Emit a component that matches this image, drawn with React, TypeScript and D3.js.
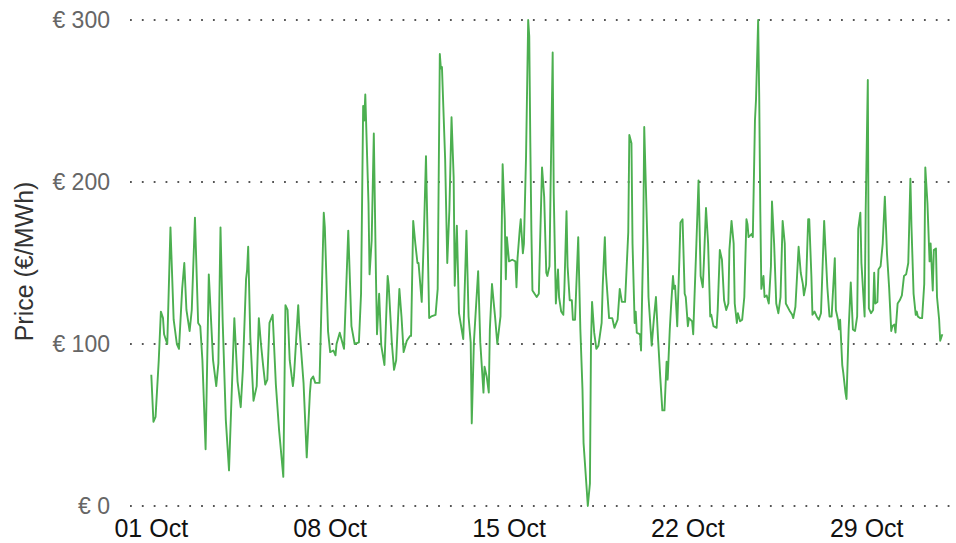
import React, { useEffect, useRef } from 'react';
import * as d3 from 'd3';

// Hourly day-ahead price readings, [hours since 01 Oct 00:00, €/MWh]
const week1: [number, number][] = [
  [0, 81], [2, 52], [4, 55], [7, 90], [9, 120], [11, 116], [12, 106], [15, 100], [18, 172], [21, 115],
  [24, 100], [26, 97], [29, 134], [31, 150], [33, 121], [36, 108], [38, 121], [41, 178], [44, 113], [46, 111],
  [48, 90], [51, 35], [54, 143], [58, 90], [61, 74], [63, 88], [65, 172], [67, 115], [70, 53], [73, 22],
  [75, 60], [78, 116], [81, 77], [84, 61], [86, 84], [89, 140], [90, 146], [91, 160], [93, 104], [96, 65],
  [99, 74], [101, 116], [103, 100], [105, 87], [107, 75], [109, 78], [111, 113], [114, 118], [117, 75], [120, 47],
  [124, 18], [126, 124], [128, 121], [130, 90], [133, 74], [134, 80], [138, 124], [139, 111], [143, 76], [146, 30],
  [149, 70], [150, 78], [152, 80], [154, 76], [158, 76], [162, 181], [163, 172], [166, 108],
];

const week2: [number, number][] = [
  [168, 95], [171, 96], [173, 93], [174, 100], [177, 107], [181, 97], [185, 170], [188, 111], [191, 100], [195, 101],
  [197, 131], [199, 247], [200, 238], [201, 254], [204, 187], [205, 143], [207, 164], [209, 230], [211, 142], [212, 106],
  [214, 131], [216, 99], [219, 87], [222, 142], [223, 136], [226, 100], [228, 84], [230, 90], [233, 134], [235, 117],
  [237, 95], [240, 102], [243, 105], [244, 105], [246, 176], [248, 162], [250, 150], [251, 150], [254, 126], [256, 166],
  [258, 216], [261, 116], [263, 117], [267, 118], [269, 134], [271, 279], [272, 270], [273, 271], [276, 214], [278, 150],
  [280, 183], [282, 240], [284, 203], [285, 136], [287, 173], [289, 119], [291, 111], [293, 103], [296, 170], [298, 117],
  [300, 101], [301, 51], [303, 101], [307, 145], [309, 101], [312, 70], [313, 86], [315, 80], [317, 70], [318, 109],
  [320, 137], [323, 116], [325, 100], [328, 117], [330, 211], [332, 177], [333, 140], [334, 166], [336, 151],
];

const week3: [number, number][] = [
  [339, 152], [342, 151], [343, 135], [344, 153], [346, 170], [347, 177], [349, 156], [350, 162], [352, 216], [354, 300],
  [355, 290], [356, 224], [357, 170], [358, 133], [360, 131], [362, 129], [364, 131], [365, 158], [367, 209], [369, 191],
  [371, 144], [372, 142], [374, 148], [375, 195], [377, 280], [378, 193], [380, 125], [382, 146], [383, 129], [385, 120],
  [387, 118], [388, 134], [390, 182], [391, 148], [393, 127], [395, 127], [396, 115], [398, 115], [401, 166], [403, 109],
  [405, 72], [406, 39], [409, 10], [410, 0], [412, 14], [413, 101], [414, 126], [416, 107], [418, 97], [420, 99],
  [423, 113], [424, 136], [426, 166], [427, 144], [430, 116], [433, 116], [435, 110], [438, 115], [440, 134], [442, 126],
  [445, 126], [448, 169], [449, 229], [451, 224], [452, 162], [454, 113], [455, 120], [456, 107], [459, 106], [460, 96],
  [462, 162], [463, 234], [466, 162], [467, 129], [470, 99], [472, 115], [474, 129], [476, 103], [478, 80], [480, 59],
  [482, 59], [484, 89], [485, 78], [487, 109], [488, 121], [490, 142], [491, 134], [492, 136], [494, 111], [496, 152],
  [497, 175], [499, 177], [501, 131], [502, 129], [504, 111], [505, 116],
];

const week4: [number, number][] = [
  [508, 114], [509, 106], [510, 125], [512, 162], [514, 201], [516, 142], [518, 135], [519, 150], [521, 184], [523, 162],
  [525, 117], [526, 118], [528, 111], [531, 110], [532, 121], [534, 158], [536, 152], [538, 127], [540, 121], [542, 125],
  [543, 158], [545, 176], [547, 162], [548, 125], [550, 113], [551, 119], [553, 114], [555, 115], [557, 129], [559, 177],
  [560, 174], [561, 166], [564, 168], [565, 166], [567, 238], [568, 251], [570, 300], [571, 253], [572, 183], [573, 134],
  [575, 142], [576, 129], [578, 130], [580, 125], [582, 148], [583, 188], [585, 162], [587, 125], [589, 119], [591, 129],
  [593, 176], [595, 162], [596, 125], [600, 120], [602, 118], [603, 116], [605, 123], [608, 160], [610, 144], [612, 137],
  [613, 130], [615, 137], [617, 177], [618, 177], [620, 142], [621, 118], [623, 120], [625, 117], [627, 115], [629, 119],
  [632, 176], [633, 162], [635, 135], [637, 117], [639, 117], [642, 153], [643, 121], [645, 115], [646, 109], [647, 115],
  [649, 87], [650, 82], [652, 70], [653, 66], [655, 109], [657, 138], [659, 109], [661, 108], [663, 117], [664, 171],
  [666, 181], [667, 150], [670, 117], [671, 182],
];

const week5: [number, number][] = [
  [673, 263], [674, 122], [676, 119], [678, 121], [679, 144], [680, 125], [682, 126], [683, 146], [685, 148], [687, 162],
  [689, 191], [691, 156], [693, 135], [695, 108], [696, 111], [698, 112], [699, 107], [701, 125], [703, 127], [705, 130],
  [707, 142], [709, 143], [711, 150], [713, 202], [714, 173], [716, 131], [718, 118], [719, 120], [720, 117], [722, 116],
  [724, 116], [726, 137], [727, 209], [729, 187], [731, 151], [732, 162], [734, 133], [735, 158], [737, 159], [738, 129],
  [740, 115], [741, 102], [743, 106],
];

const tickDays = [1, 8, 15, 22, 29];
const priceTicks = [0, 100, 200, 300];

const App = () => {
  const svgRef = useRef<SVGSVGElement>(null);

  useEffect(() => {
    const svg = d3.select(svgRef.current);
    svg.selectAll('*').remove();

    const width = 956;
    const height = 543;
    const start = Date.UTC(2021, 9, 1);

    const x = d3
      .scaleUtc()
      .domain([new Date(start), new Date(Date.UTC(2021, 10, 1))])
      .range([151.3, 943.4]);

    const y = d3.scaleLinear().domain([0, 300]).range([506, 20]);

    const data = [...week1, ...week2, ...week3, ...week4, ...week5].map(([h, v]) => ({
      date: new Date(start + h * 3600 * 1000),
      value: v,
    }));

    svg.attr('width', width).attr('height', height);

    // dotted gridlines
    svg
      .append('g')
      .selectAll('line')
      .data(priceTicks)
      .enter()
      .append('line')
      .attr('x1', 130)
      .attr('x2', 952)
      .attr('y1', (d) => y(d))
      .attr('y2', (d) => y(d))
      .attr('stroke', '#555')
      .attr('stroke-width', 1.8)
      .attr('stroke-dasharray', '1.8 10.05');

    // y tick labels
    svg
      .append('g')
      .selectAll('text')
      .data(priceTicks)
      .enter()
      .append('text')
      .attr('x', 110)
      .attr('y', (d) => y(d))
      .attr('dy', '0.35em')
      .attr('text-anchor', 'end')
      .attr('font-family', 'Liberation Sans, Arial, sans-serif')
      .attr('font-size', 23)
      .attr('fill', '#666')
      .text((d) => `€ ${d}`);

    // x tick labels
    const fmt = d3.utcFormat('%d %b');
    svg
      .append('g')
      .selectAll('text')
      .data(tickDays.map((d) => new Date(Date.UTC(2021, 9, d))))
      .enter()
      .append('text')
      .attr('x', (d) => x(d))
      .attr('y', 537)
      .attr('text-anchor', 'middle')
      .attr('font-family', 'Liberation Sans, Arial, sans-serif')
      .attr('font-size', 25)
      .attr('fill', '#111')
      .text((d) => fmt(d));

    // y axis title
    svg
      .append('text')
      .attr('transform', 'translate(33, 261.5) rotate(-90)')
      .attr('text-anchor', 'middle')
      .attr('font-family', 'Liberation Sans, Arial, sans-serif')
      .attr('font-size', 25)
      .attr('fill', '#333')
      .text('Price (€/MWh)');

    // price line
    const line = d3
      .line<{ date: Date; value: number }>()
      .x((d) => x(d.date))
      .y((d) => y(d.value));

    svg
      .append('path')
      .datum(data)
      .attr('fill', 'none')
      .attr('stroke', '#4caf50')
      .attr('stroke-width', 1.9)
      .attr('stroke-linejoin', 'round')
      .attr('d', line);
  }, []);

  return (
    <svg
      ref={svgRef}
      style={{ position: 'absolute', left: 0, top: 0, background: '#fff' }}
    />
  );
};

export default App;
